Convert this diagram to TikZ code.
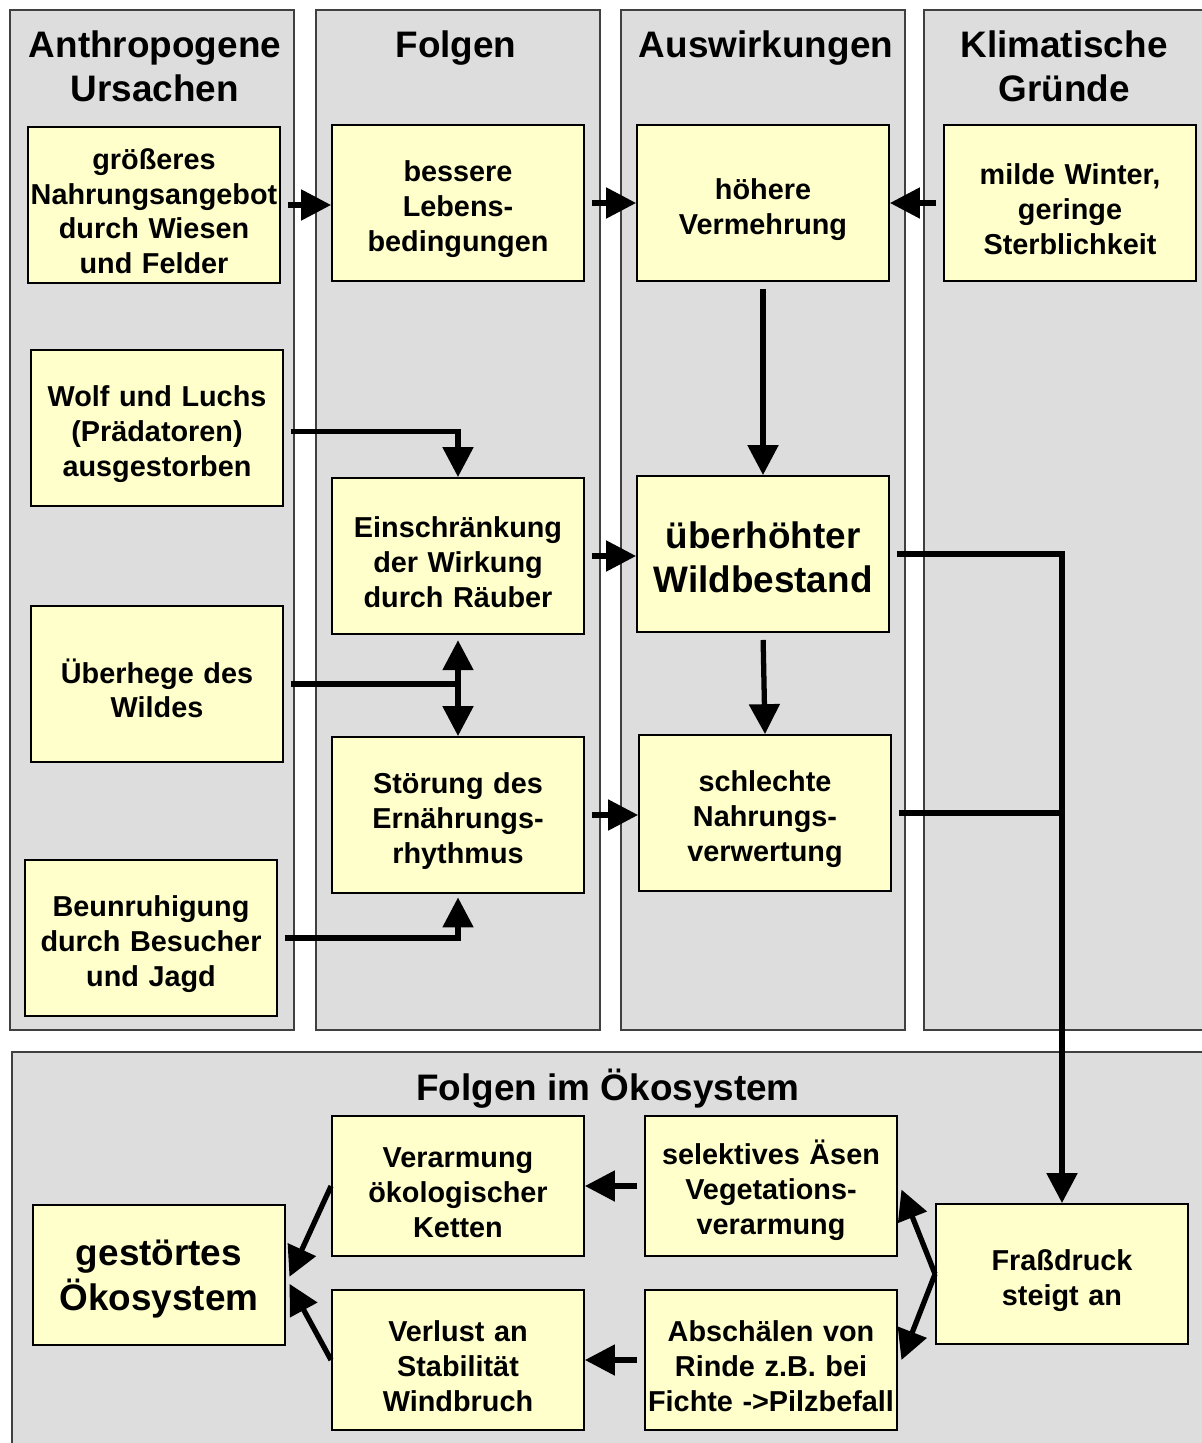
\documentclass[tikz,border=0pt]{standalone}
\usepackage{fontspec}
\setmainfont{Liberation Sans}
\usetikzlibrary{arrows.meta}

\definecolor{spaltengrau}{RGB}{221,221,221}
\definecolor{kastengelb}{RGB}{255,255,204}

\begin{document}
\begin{tikzpicture}[x=0.02cm,y=-0.02cm,
  spalte/.style={fill=spaltengrau,draw=black!75,line width=0.8pt},
  kopf/.style={font=\fontsize{21}{25}\selectfont\bfseries,align=center},
  kasten/.style={draw,line width=1.1pt,fill=kastengelb,minimum width=5.04cm,minimum height=3.12cm,
    inner xsep=0pt,inner ysep=1pt,text width=5.0cm,align=center,
    font=\fontsize{16.4}{19.8}\selectfont\bfseries,
    execute at begin node={\rule{0pt}{19pt}}},
  flach/.style={minimum height=2.8cm},
  gross/.style={font=\fontsize{21}{25.5}\selectfont\bfseries},
  linie/.style={line width=3pt,shorten <=4pt},
  pfeil/.style={linie,-{Triangle[length=17pt,width=17pt]}}]
  \clip (0,0) rectangle (1202,1443);
  % Spalten
  \foreach \xa/\xb in {10/294,316/600,621/905,924/1215}
    \draw[spalte] (\xa,10) rectangle (\xb,1030);
  \draw[spalte] (12,1052) rectangle (1215,1460);
  \node[kopf] (ursachen) at (155,66) {Anthropogene\\Ursachen};
  \node[kopf] (folgen) at (456,48) {Folgen};
  \node[kopf] (auswirkungen) at (766,48) {Auswirkungen};
  \node[kopf] (klima) at (1064,66) {Klimatische\\Gründe};
  \node[kopf] (oekokopf) at (608,1089) {Folgen im Ökosystem};

  % obere Kaesten
  \node[kasten] (nahrung) at (154,205) {größeres\\Nahrungsangebot\\durch Wiesen\\und Felder};
  \node[kasten] (leben) at (458,203) {bessere\\Lebens-\\bedingungen};
  \node[kasten] (vermehrung) at (763,203) {höhere\\Vermehrung};
  \node[kasten] (winter) at (1070,203) {milde Winter,\\geringe\\Sterblichkeit};
  \node[kasten] (raeuber) at (157,428) {Wolf und Luchs\\(Prädatoren)\\ausgestorben};
  \node[kasten] (einschr) at (458,556) {Einschränkung\\der Wirkung\\durch Räuber};
  \node[kasten,gross] (wildbestand) at (763,554) {überhöhter\\Wildbestand};
  \node[kasten] (ueberhege) at (157,684) {Überhege des\\Wildes};
  \node[kasten] (stoerung) at (458,815) {Störung des\\Ernährungs-\\rhythmus};
  \node[kasten] (verwertung) at (765,813) {schlechte\\Nahrungs-\\verwertung};
  \node[kasten] (unruhe) at (151,938) {Beunruhigung\\durch Besucher\\und Jagd};

  % untere Kaesten
  \node[kasten,flach,gross] (oeko) at (159,1275) {gestörtes\\Ökosystem};
  \node[kasten,flach] (ketten) at (458,1186) {Verarmung\\ökologischer\\Ketten};
  \node[kasten,flach] (stabil) at (458,1360) {Verlust an\\Stabilität\\Windbruch};
  \node[kasten,flach] (aesen) at (771,1186) {selektives Äsen\\Vegetations-\\verarmung};
  \node[kasten,flach] (rinde) at (771,1360) {Abschälen von\\Rinde z.B. bei\\Fichte ->Pilzbefall};
  \node[kasten,flach] (frass) at (1062,1274) {Fraßdruck\\steigt an};

  % Pfeile oben
  \draw[pfeil] (nahrung.east) -- (leben.west |- nahrung.east);
  \draw[pfeil] (leben.east) -- (vermehrung.west);
  \draw[pfeil] (winter.west) -- (vermehrung.east);
  \draw[pfeil] (vermehrung.south) -- (wildbestand.north);
  \draw[pfeil] ([yshift=-2pt]raeuber.east) -| (einschr.north);
  \draw[pfeil] (einschr.east) -- (wildbestand.west |- einschr.east);
  \coordinate (knick) at (einschr.south |- ueberhege.east);
  \draw[linie] (ueberhege.east) -- (knick);
  \draw[pfeil,shorten <=0pt,shorten >=3pt] (knick) -- (einschr.south);
  \draw[pfeil,shorten <=0pt] (knick) -- (stoerung.north);
  \draw[pfeil] (wildbestand.south) -- (verwertung.north);
  \draw[pfeil] (stoerung.east) -- (verwertung.west |- stoerung.east);
  \draw[pfeil,shorten >=2pt] (unruhe.east) -| (stoerung.south);
  \draw[pfeil] (wildbestand.east) -| (frass.north);
  \draw[linie] (verwertung.east) -- (verwertung.east -| frass.north);

  % Pfeile unten
  \draw[pfeil,shorten <=0pt] (frass.west) -- ([xshift=2pt,yshift=-2pt]aesen.east);
  \draw[pfeil,shorten <=0pt] (frass.west) -- ([xshift=2pt]rinde.east);
  \draw[pfeil] (aesen.west) -- (ketten.east);
  \draw[pfeil] (rinde.west) -- (stabil.east);
  \draw[pfeil,shorten <=0pt] (ketten.west) -- ([xshift=2pt,yshift=-1pt]oeko.east);
  \draw[pfeil,shorten <=0pt] (stabil.west) -- ([xshift=2pt,yshift=-5pt]oeko.east);
\end{tikzpicture}
\end{document}
